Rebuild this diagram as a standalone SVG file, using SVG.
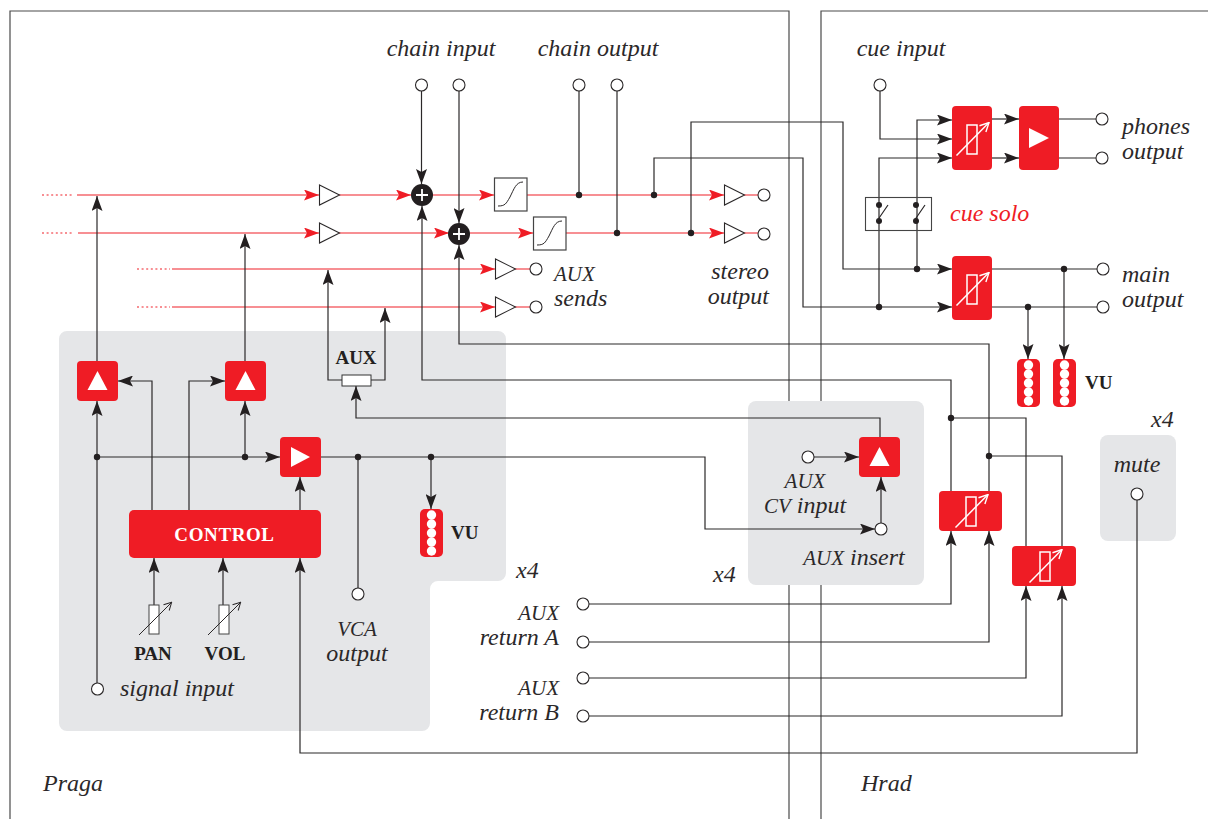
<svg xmlns="http://www.w3.org/2000/svg" width="1208" height="819" viewBox="0 0 1208 819">
<style>
.f{fill:none;stroke:#4a4a4a;stroke-width:1.2}
.k{fill:none;stroke:#2b2829;stroke-width:1.2}
.a{marker-end:url(#ak)}
.r{fill:none;stroke:#ef2028;stroke-width:1.15}
.ra{marker-end:url(#ar)}
.d{fill:none;stroke:#ef2028;stroke-width:1.15;stroke-dasharray:2 2.6}
.p{fill:#e5e6e8}
.b{fill:#ef1c25}
.w{fill:#fff}
.o{fill:#fff;stroke:#2b2829;stroke-width:1.1}
.t{fill:#fff;stroke:#2b2829;stroke-width:1.1}
.bx{fill:#fff;stroke:#444;stroke-width:1.2}
.dot{fill:#231f20}
.rw{fill:none;stroke:#fff;stroke-width:1.5}
.i{font-family:"Liberation Serif",serif;font-style:italic;font-size:24px;fill:#2b2829}
.c{font-size:21px}
.l{font-family:"Liberation Serif",serif;font-weight:bold;font-size:19px;fill:#231f20}
.m{text-anchor:middle}
.e{text-anchor:end}
</style>
<defs>
<marker id="ak" markerUnits="userSpaceOnUse" markerWidth="15" markerHeight="11" refX="15" refY="5.5" orient="auto"><path d="M0,0L15,5.5L0,11L3,5.5Z" fill="#231f20"/></marker>
<marker id="ar" markerUnits="userSpaceOnUse" markerWidth="15" markerHeight="11" refX="15" refY="5.5" orient="auto"><path d="M0,0L15,5.500L0,11L3,5.500Z" fill="#ef1c25"/></marker>
<marker id="aw" markerUnits="userSpaceOnUse" markerWidth="11" markerHeight="11" refX="10" refY="5.5" orient="auto"><path d="M1,1L10,5.500L1,10" fill="none" stroke="#fff" stroke-width="1.4"/></marker>
<marker id="ab" markerUnits="userSpaceOnUse" markerWidth="9" markerHeight="9" refX="9" refY="4.5" orient="auto"><path d="M1,0.5L8.5,4.500L1,8.500" fill="none" stroke="#2b2829" stroke-width="1"/></marker>
<g id="pot"><rect x="-5" y="-14.500" width="10" height="29" class="rw"/><path d="M-15.500,16L17,-17" class="rw" style="marker-end:url(#aw)"/></g>
<g id="vu"><rect x="-11.500" y="-24" width="23" height="48" rx="5" class="b"/><circle cy="-18" r="4.700" class="w"/><circle cy="-9" r="4.700" class="w"/><circle r="4.700" class="w"/><circle cy="9" r="4.700" class="w"/><circle cy="18" r="4.700" class="w"/></g>
<g id="sum"><circle r="11" class="dot"/><path d="M-6,0H6M0,-6V6" stroke="#fff" stroke-width="1.8"/></g>
<g id="up"><rect x="-20.500" y="-20" width="41" height="40" rx="4" class="b"/><path d="M0,-10L10,9H-10Z" class="w"/></g>
<path id="tri" d="M0,-10L20,0L0,10Z" class="t"/>
<path id="sc" d="M-13,11C-6,11 -5,9 -1,2C3,-6 5,-13 12,-13" fill="none" stroke="#2b2829" stroke-width="1"/>
</defs>

<g id="frame">
<path d="M10,819V11H789V819M821,819V11H1208" class="f"/>
</g>
<g id="panels">
<path id="panel-channel" class="p" d="M67,331H498a8,8 0 0 1 8,8V573a8,8 0 0 1 -8,8H438a8,8 0 0 0 -8,8V723a8,8 0 0 1 -8,8H67a8,8 0 0 1 -8,-8V339a8,8 0 0 1 8,-8Z"/>
<rect id="panel-aux" class="p" x="748" y="401" width="176" height="184" rx="8"/>
<rect id="panel-mute" class="p" x="1100" y="435" width="76" height="106" rx="8"/>
</g>

<g id="connectors">
<path class="d" d="M42,195H74M42,233H74M137,269H170M137,307H170"/>
<path class="r ra" d="M77,195H319"/>
<path class="r ra" d="M78,233H319"/>
<path class="r ra" d="M172,269H495"/>
<path class="r ra" d="M172,307H495"/>
<path class="r ra" d="M339,195H411"/>
<path class="r ra" d="M339,233H449"/>
<path class="r ra" d="M432,195H494"/>
<path class="r ra" d="M470,233H533"/>
<path class="r ra" d="M527,195H724"/>
<path class="r ra" d="M566,233H724"/>
<path class="r" d="M515,269H530M515,307H530M744,195H758M744,233H758"/>

<path class="k a" d="M97,683V401"/>
<path class="k a" d="M97,361V196"/>
<path class="k a" d="M245,361V234"/>
<path class="k a" d="M245,457V401"/>
<path class="k a" d="M97,457H280"/>
<path class="k a" d="M321,457H705V529H875"/>
<path class="k a" d="M152,510V381H118"/>
<path class="k a" d="M189,510V381H225"/>
<path class="k a" d="M300,510V477"/>
<path class="k a" d="M1137,500V753H300V558"/>
<path class="k a" d="M154,605V558"/>
<path class="k a" d="M223,605V558"/>
<path class="k" d="M358,457V588"/>
<path class="k a" d="M431,457V509"/>
<path class="k a" d="M342,380H328V270"/>
<path class="k a" d="M371,380H385V308"/>
<path class="k a" d="M880,437V418H356V386"/>
<path class="k a" d="M814,457H859"/>
<path class="k a" d="M881,523V477"/>
<path class="k a" d="M421.500,91V184"/>
<path class="k a" d="M459,91V223"/>
<path class="k" d="M579,91V195M617,91V233"/>
<path class="k a" d="M951,491V380H422V206"/>
<path class="k a" d="M989,491V344H459V245"/>
<path class="k" d="M951,418H1026V546"/>
<path class="k" d="M989,456H1062V546"/>
<path class="k a" d="M589,604H951V531"/>
<path class="k a" d="M589,642H989V531"/>
<path class="k a" d="M589,678H1026V586"/>
<path class="k a" d="M589,716H1062V586"/>
<path class="k a" d="M691,233V122H843V269H952"/>
<path class="k a" d="M654,195V158H803V307H952"/>
<path class="k a" d="M880,91V139H952"/>
<path class="k a" d="M879,307V158H952"/>
<path class="k a" d="M917,269V120H952"/>
<path class="k a" d="M992,119H1019"/>
<path class="k a" d="M992,158H1019"/>
<path class="k" d="M1059,119H1096M1059,158H1096M992,269H1097M992,307H1097"/>
<path class="k a" d="M1028,307V359"/>
<path class="k a" d="M1064,269V359"/>
<g id="junctions" class="dot">
<circle cx="97" cy="457" r="3.200"/><circle cx="245" cy="457" r="3.200"/><circle cx="358" cy="457" r="3.200"/><circle cx="431" cy="457" r="3.200"/>
<circle cx="579" cy="195" r="3.200"/><circle cx="617" cy="233" r="3.200"/><circle cx="654" cy="195" r="3.200"/><circle cx="691" cy="233" r="3.200"/>
<circle cx="917" cy="269" r="3.200"/><circle cx="879" cy="307" r="3.200"/><circle cx="1064" cy="269" r="3.200"/><circle cx="1028" cy="307" r="3.200"/>
<circle cx="951" cy="418" r="3.200"/><circle cx="989" cy="456" r="3.200"/>
</g>
</g>

<g id="buffers">
<use href="#tri" x="319.500" y="195"/><use href="#tri" x="319.500" y="233"/><use href="#tri" x="495.500" y="269"/><use href="#tri" x="495.500" y="307"/><use href="#tri" x="724.500" y="195"/><use href="#tri" x="724.500" y="233"/>
</g>
<g id="sum1"><use href="#sum" x="422" y="195"/></g>
<g id="sum2"><use href="#sum" x="459" y="234"/></g>
<g id="limiter1"><rect x="494.500" y="178" width="32.500" height="33" class="bx"/><use href="#sc" x="511" y="195"/></g>
<g id="limiter2"><rect x="533.500" y="217" width="32.500" height="33" class="bx"/><use href="#sc" x="550" y="234"/></g>

<g id="pan-amp"><use href="#up" x="97.500" y="381"/></g>
<g id="vol-amp"><use href="#up" x="245.500" y="381"/></g>
<g id="vca"><rect x="280" y="437" width="41" height="40" rx="4" class="b"/><path d="M291,447L310,457L291,467Z" class="w"/></g>
<g id="control"><rect x="129" y="510" width="192" height="48" rx="5" class="b"/><text x="224.500" y="541" class="l m" style="fill:#fff;letter-spacing:.6px">CONTROL</text></g>
<g id="pan"><rect x="149" y="605" width="10" height="29" fill="#fff" stroke="#444"/><path d="M139,635L172,602" class="k" style="stroke-width:1;marker-end:url(#ab)"/><text x="153" y="660" class="l m">PAN</text></g>
<g id="vol"><rect x="219" y="605" width="10" height="29" fill="#fff" stroke="#444"/><path d="M208,635L241,602" class="k" style="stroke-width:1;marker-end:url(#ab)"/><text x="225" y="660" class="l m">VOL</text></g>
<g id="aux-pot"><rect x="342" y="375" width="29" height="11" fill="#fff" stroke="#333"/><text x="356" y="364" class="l m">AUX</text></g>
<g id="vu-channel"><use href="#vu" x="431.500" y="533"/><text x="451" y="539" class="l">VU</text></g>
<g id="aux-amp"><use href="#up" x="879.500" y="457"/></g>
<g id="return-a"><rect x="939" y="491" width="63" height="40" rx="4" class="b"/><use href="#pot" x="971" y="511.500"/></g>
<g id="return-b"><rect x="1012" y="546" width="64" height="40" rx="4" class="b"/><use href="#pot" x="1045" y="566.500"/></g>
<g id="cue-level"><rect x="952" y="106" width="40" height="64" rx="4" class="b"/><use href="#pot" x="972" y="139.500"/></g>
<g id="phones-amp"><rect x="1019" y="106" width="40" height="64" rx="4" class="b"/><path d="M1029,128L1049,138L1029,148Z" class="w"/></g>
<g id="main-level"><rect x="952" y="256" width="40" height="64" rx="4" class="b"/><use href="#pot" x="972" y="289.500"/></g>
<g id="vu-main"><use href="#vu" x="1028.500" y="383"/><use href="#vu" x="1064.500" y="383"/><text x="1085" y="389" class="l">VU</text></g>
<g id="cue-switch"><rect x="865.500" y="197.500" width="66" height="33" fill="none" stroke="#444" stroke-width="1.100"/><g class="dot"><circle cx="879" cy="205" r="3"/><circle cx="879" cy="221" r="3"/><circle cx="916" cy="205" r="3"/><circle cx="916" cy="221" r="3"/></g><path d="M877,221L888,205M914,221L925,205" class="k"/></g>

<g id="terminals" class="o">
<circle cx="421.500" cy="85" r="6"/><circle cx="459" cy="85" r="6"/><circle cx="579" cy="85" r="6"/><circle cx="617" cy="85" r="6"/><circle cx="880" cy="85" r="6"/>
<circle cx="764" cy="195" r="6"/><circle cx="764" cy="234" r="6"/><circle cx="536" cy="269" r="6"/><circle cx="536" cy="307" r="6"/>
<circle cx="1102" cy="119" r="6"/><circle cx="1102" cy="158" r="6"/><circle cx="1103" cy="269" r="6"/><circle cx="1103" cy="307" r="6"/>
<circle cx="97.500" cy="689" r="6"/><circle cx="358" cy="594" r="6"/><circle cx="808" cy="457" r="6"/><circle cx="881" cy="529" r="6"/><circle cx="1137" cy="494" r="6"/>
<circle cx="583" cy="604" r="6"/><circle cx="583" cy="642" r="6"/><circle cx="583" cy="678" r="6"/><circle cx="583" cy="716" r="6"/>
</g>

<g id="labels">
<text x="441" y="56" class="i m">chain input</text>
<text x="598" y="56" class="i m">chain output</text>
<text x="901" y="56" class="i m">cue input</text>
<text x="1122" y="134" class="i">phones</text><text x="1122" y="159" class="i">output</text>
<text x="950" y="221" class="i" style="fill:#ef1c25">cue solo</text>
<text x="1122" y="282" class="i">main</text><text x="1122" y="307" class="i">output</text>
<text x="554" y="281" class="i c">AUX</text><text x="554" y="306" class="i">sends</text>
<text x="769" y="279" class="i e">stereo</text><text x="769" y="304" class="i e">output</text>
<text x="120" y="696" class="i">signal input</text>
<text x="357" y="636" class="i m c">VCA</text><text x="357" y="661" class="i m">output</text>
<text x="516" y="578" class="i">x4</text>
<text x="713" y="582" class="i">x4</text>
<text x="1151" y="427" class="i">x4</text>
<text x="805" y="488" class="i m c">AUX</text><text x="805" y="513" class="i m"><tspan class="c">CV</tspan> input</text>
<text x="854" y="565" class="i m"><tspan class="c">AUX</tspan> insert</text>
<text x="559" y="620" class="i e c">AUX</text><text x="559" y="645" class="i e">return A</text>
<text x="559" y="695" class="i e c">AUX</text><text x="559" y="720" class="i e">return B</text>
<text x="1137" y="472" class="i m">mute</text>
<text x="43" y="791" class="i">Praga</text>
<text x="861" y="791" class="i">Hrad</text>
</g>
</svg>
